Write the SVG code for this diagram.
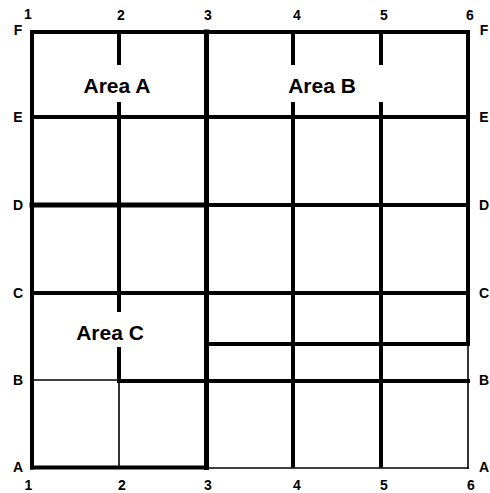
<svg xmlns="http://www.w3.org/2000/svg" width="490" height="493" viewBox="0 0 490 493">
<style>
.t{stroke:#000;stroke-width:4;fill:none;stroke-linecap:square}
.t5{stroke:#000;stroke-width:5;fill:none;stroke-linecap:square}
.n{stroke:#000;stroke-width:1.6;fill:none;stroke-linecap:square}
.g{stroke:#000;stroke-width:4;fill:none;stroke-linecap:butt}
.lbl{font-family:"Liberation Sans",Arial,sans-serif;font-weight:bold;font-size:14px;fill:#000;text-anchor:middle}
.area{font-family:"Liberation Sans",Arial,sans-serif;font-weight:bold;font-size:21px;fill:#000;text-anchor:middle}
</style>
<rect width="490" height="493" fill="#fff"/>
<g id="walls">
<line class="t" x1="32" y1="32" x2="32" y2="467.5"/>
<line class="t" x1="32" y1="32" x2="468" y2="32"/>
<line class="t" x1="468" y1="32" x2="468" y2="344"/>
<line class="n" x1="468" y1="344" x2="468" y2="468"/>
<line class="t5" x1="206.5" y1="32" x2="206.5" y2="467.5"/>
<line class="g" x1="119" y1="32" x2="119" y2="65"/>
<line class="g" x1="119" y1="102" x2="119" y2="312"/>
<line class="g" x1="119" y1="347" x2="119" y2="381"/>
<line class="n" x1="119" y1="381" x2="119" y2="467.5"/>
<line class="g" x1="293" y1="32" x2="293" y2="65"/>
<line class="g" x1="293" y1="102" x2="293" y2="467.5"/>
<line class="g" x1="381" y1="32" x2="381" y2="65"/>
<line class="g" x1="381" y1="102" x2="381" y2="467.5"/>
<line class="t" x1="32" y1="117" x2="468" y2="117"/>
<line class="t5" x1="32" y1="205" x2="206.5" y2="205"/>
<line class="t" x1="206.5" y1="205" x2="468" y2="205"/>
<line class="t" x1="32" y1="293" x2="468" y2="293"/>
<line class="t" x1="206.5" y1="344" x2="468" y2="344"/>
<line class="n" x1="32" y1="380" x2="119" y2="380"/>
<line class="t" x1="119" y1="381" x2="468" y2="381"/>
<line class="t" x1="32" y1="467.5" x2="206.5" y2="467.5"/>
<line class="n" x1="206.5" y1="468" x2="468" y2="468"/>
</g>
<g id="area-a"><text class="area" x="117" y="93">Area A</text></g>
<g id="area-b"><text class="area" x="322" y="93">Area B</text></g>
<g id="area-c"><text class="area" x="110" y="340">Area C</text></g>
<g id="axis-top">
<text class="lbl" x="28" y="19">1</text>
<text class="lbl" x="121" y="20">2</text>
<text class="lbl" x="208" y="20">3</text>
<text class="lbl" x="297" y="20">4</text>
<text class="lbl" x="384" y="20">5</text>
<text class="lbl" x="470" y="20">6</text>
</g>
<g id="axis-bottom">
<text class="lbl" x="28.5" y="490">1</text>
<text class="lbl" x="122" y="490">2</text>
<text class="lbl" x="208" y="490">3</text>
<text class="lbl" x="297" y="490">4</text>
<text class="lbl" x="384" y="490">5</text>
<text class="lbl" x="471" y="490">6</text>
</g>
<g id="axis-left">
<text class="lbl" x="18" y="35">F</text>
<text class="lbl" x="18" y="122">E</text>
<text class="lbl" x="18" y="210">D</text>
<text class="lbl" x="18" y="298">C</text>
<text class="lbl" x="18" y="385">B</text>
<text class="lbl" x="18" y="472">A</text>
</g>
<g id="axis-right">
<text class="lbl" x="484" y="35">F</text>
<text class="lbl" x="484" y="122">E</text>
<text class="lbl" x="484" y="210">D</text>
<text class="lbl" x="484" y="298">C</text>
<text class="lbl" x="484" y="385">B</text>
<text class="lbl" x="484" y="472">A</text>
</g>
</svg>
